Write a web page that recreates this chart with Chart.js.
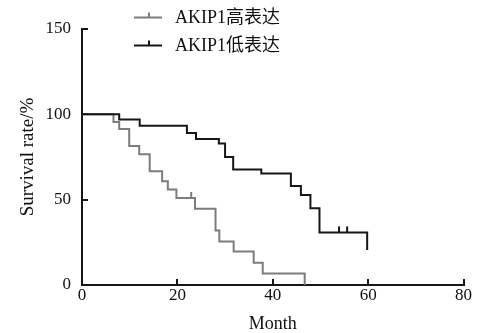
<!DOCTYPE html>
<html>
<head>
<meta charset="utf-8">
<script src="https://cdn.jsdelivr.net/npm/chart.js@4.4.1/dist/chart.umd.min.js"></script>
<style>
html,body{margin:0;padding:0;background:#fff;}
#wrap{width:478px;height:333px;}
</style>
</head>
<body>
<div id="wrap"><canvas id="c" width="478" height="333"></canvas></div>
<script>
// Series labels
const seriesLabels = ['AKIP1高表达', 'AKIP1低表达'];
// High expression group (grey): event times (month) and survival (%)
const highTimes = [0, 6.6, 7.8, 9.9, 12.0, 14.2, 16.8, 18.0, 19.8, 23.7, 28.0, 28.8, 31.8, 36.0, 37.9, 46.7];
const highSurv  = [100, 95.5, 91.4, 81.5, 76.6, 66.7, 60.8, 56.0, 51.0, 44.7, 32.0, 25.5, 19.7, 13.0, 6.7, 0];
// Low expression group (black)
const lowTimes = [0, 7.8, 12.1, 22.0, 23.9, 28.7, 30.0, 31.7, 37.6, 43.8, 45.9, 47.9, 49.8, 59.8];
const lowSurv  = [100, 96.9, 93.3, 89.0, 85.5, 82.9, 75.0, 67.7, 65.3, 58.0, 52.8, 44.9, 30.8, 20.5];
// Censored observations
const highCensorTimes = [22.9];
const highCensorSurv  = [51.0];
const lowCensorTimes = [53.9, 55.6];
const lowCensorSurv  = [30.8, 30.8];
// Axis ticks
const xTicks = [0, 20, 40, 60, 80];
const yTicks = [0, 50, 100, 150];

const GREY = '#7c7c7c';
const BLACK = '#161616';
const FONT = "'Liberation Serif', 'Noto Sans CJK SC', serif";

function pts(t, s) { return t.map((x, i) => ({x: x, y: s[i]})); }

const censorPlugin = {
  id: 'censor',
  afterDatasetsDraw(chart) {
    const ctx = chart.ctx, xs = chart.scales.x, ys = chart.scales.y;
    const groups = [[highCensorTimes, highCensorSurv, GREY], [lowCensorTimes, lowCensorSurv, BLACK]];
    ctx.save();
    ctx.lineWidth = 2;
    groups.forEach(g => {
      ctx.strokeStyle = g[2];
      g[0].forEach((t, i) => {
        const px = xs.getPixelForValue(t), py = ys.getPixelForValue(g[1][i]);
        ctx.beginPath(); ctx.moveTo(px, py); ctx.lineTo(px, py - 6); ctx.stroke();
      });
    });
    ctx.restore();
  }
};

const legendPlugin = {
  id: 'kmLegend',
  afterDraw(chart) {
    const ctx = chart.ctx;
    ctx.save();
    const rows = [17.5, 45.5];
    chart.data.datasets.forEach((ds, i) => {
      const y = rows[i];
      ctx.strokeStyle = ds.borderColor; ctx.lineWidth = 2;
      ctx.beginPath(); ctx.moveTo(134, y); ctx.lineTo(162, y); ctx.stroke();
      ctx.beginPath(); ctx.moveTo(149, y); ctx.lineTo(149, y - 5); ctx.stroke();
      ctx.fillStyle = '#111';
      ctx.font = "18px " + FONT;
      ctx.textBaseline = 'middle';
      ctx.textAlign = 'left';
      ctx.fillText(ds.label, 175, y + 1);
    });
    ctx.restore();
  }
};

new Chart(document.getElementById('c'), {
  type: 'line',
  data: {
    datasets: [
      { label: seriesLabels[0], data: pts(highTimes, highSurv), stepped: true, borderColor: GREY, borderWidth: 2, pointRadius: 0, fill: false, order: 2 },
      { label: seriesLabels[1], data: pts(lowTimes, lowSurv), stepped: true, borderColor: BLACK, borderWidth: 2, pointRadius: 0, fill: false, order: 1 }
    ]
  },
  options: {
    responsive: false,
    animation: false,
    layout: { padding: { left: 0, right: 2, top: 29, bottom: 0 } },
    plugins: { legend: { display: false }, tooltip: { enabled: false } },
    scales: {
      x: {
        type: 'linear', min: 0, max: 80,
        afterBuildTicks(s) { s.ticks = xTicks.map(v => ({value: v})); },
        afterFit(s) { s.height = 48; },
        border: { display: true, color: BLACK, width: 2 },
        grid: { drawOnChartArea: false, drawTicks: true, tickLength: -6, color: BLACK, lineWidth: 2 },
        ticks: { color: '#111', font: { family: FONT, size: 17 }, padding: 6, maxRotation: 0 },
        title: { display: true, text: 'Month', color: '#111', font: { family: FONT, size: 18, lineHeight: 1 }, padding: { top: 0, bottom: 0 } }
      },
      y: {
        type: 'linear', min: 0, max: 150,
        afterBuildTicks(s) { s.ticks = yTicks.map(v => ({value: v})); },
        afterFit(s) { s.width = 82; },
        border: { display: true, color: BLACK, width: 2 },
        grid: { drawOnChartArea: false, drawTicks: true, tickLength: -6, color: BLACK, lineWidth: 2 },
        ticks: { color: '#111', font: { family: FONT, size: 17 }, padding: 17 },
        title: { display: true, text: 'Survival rate/%', color: '#111', font: { family: FONT, size: 19 }, padding: { top: 17, bottom: 0 } }
      }
    }
  },
  plugins: [censorPlugin, legendPlugin]
});
</script>
</body>
</html>
